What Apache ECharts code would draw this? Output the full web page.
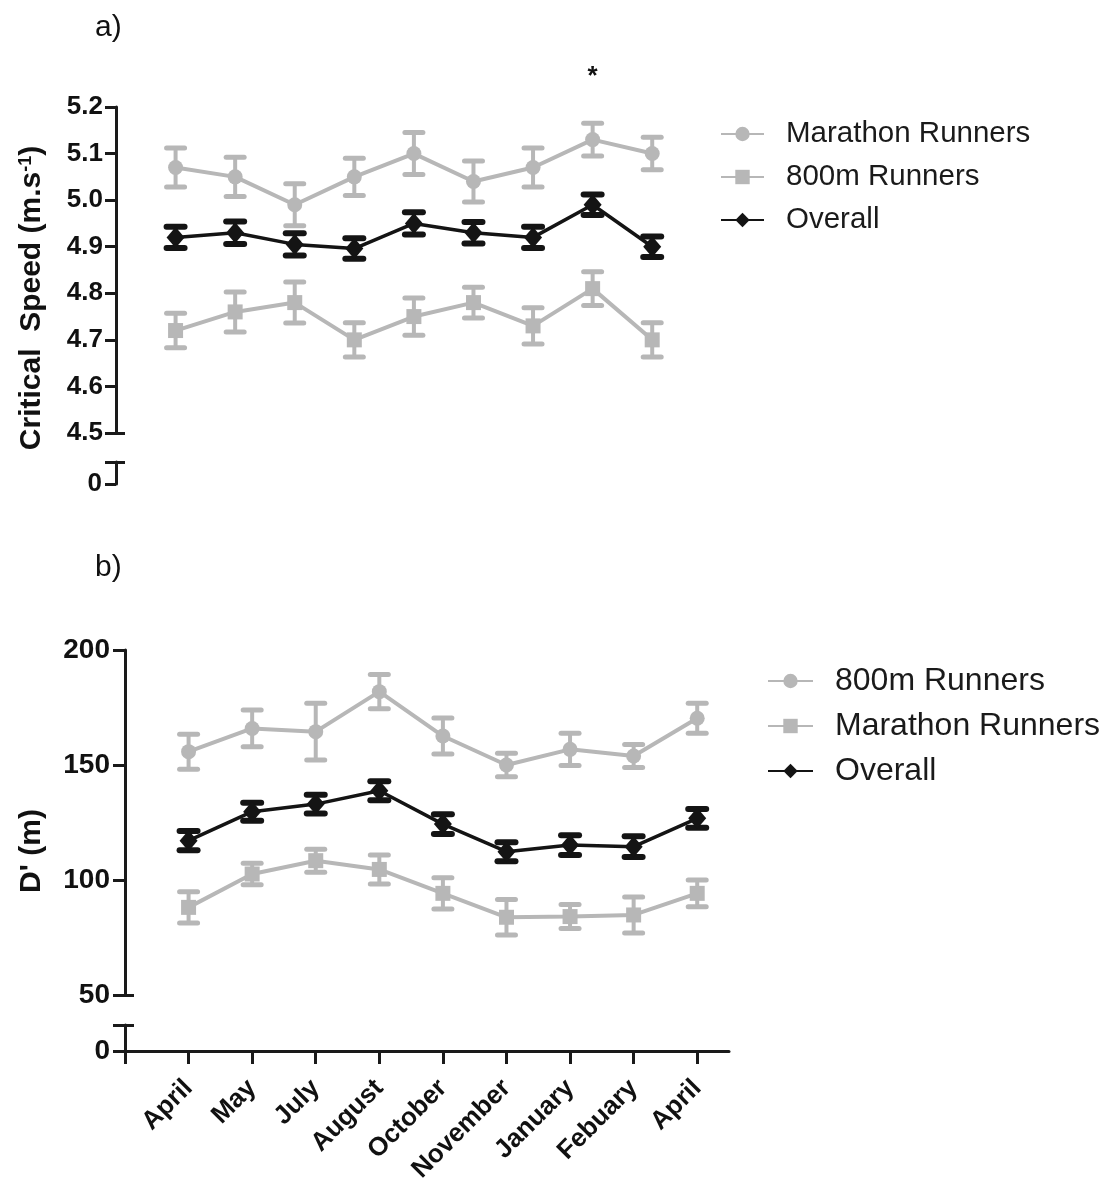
<!DOCTYPE html>
<html>
<head>
<meta charset="utf-8">
<script src="https://cdn.jsdelivr.net/npm/echarts@6/dist/echarts.min.js"></script>
<style>
html,body{margin:0;padding:0;background:#fff;}
#chart{width:1109px;height:1195px;}
</style>
</head>
<body>
<div id="chart"></div>
<script>
// ---- data ----
const months = ['April','May','July','August','October','November','January','Febuary','April'];

// panel a) Critical speed (m.s-1)
const csMarathon    = [5.07, 5.05, 4.99, 5.05, 5.10, 5.04, 5.07, 5.13, 5.10];
const csMarathonErr = [0.042,0.042,0.045,0.040,0.045,0.044,0.042,0.035,0.035];
const cs800         = [4.72, 4.76, 4.78, 4.70, 4.75, 4.78, 4.73, 4.81, 4.70];
const cs800Err      = [0.037,0.043,0.044,0.037,0.040,0.033,0.039,0.036,0.037];
const csOverall     = [4.92, 4.93, 4.905,4.896,4.95, 4.93, 4.92, 4.99, 4.90];
const csOverallErr  = [0.023,0.024,0.024,0.022,0.024,0.023,0.023,0.022,0.022];
const csStarIndex   = 7; // Febuary

// panel b) D' (m)
const d800          = [155.8,165.9,164.5,181.9,162.6,150.0,156.8,153.9,170.3];
const d800Err       = [7.6, 8.0, 12.3, 7.4, 7.8, 5.1, 7.0, 5.0, 6.5];
const dMarathon     = [88.1,102.6,108.4,104.6, 94.2, 83.8, 84.1, 84.8, 94.2];
const dMarathonErr  = [6.8, 4.7, 5.0, 6.3, 6.8, 7.7, 5.2, 7.8, 5.8];
const dOverall      = [117.1,129.7,133.0,138.8,124.3,112.3,115.2,114.5,126.8];
const dOverallErr   = [4.2, 3.9, 4.1, 4.1, 4.3, 4.1, 4.3, 4.5, 4.1];

const breakZero = [0];

// ---- helpers ----
const GRAY = '#b7b7b7';
const BLACK = '#141414';
const AXIS = '#1a1a1a';
const FONT = '"Liberation Sans", Arial, Helvetica, sans-serif';

function pts(arr){ return arr.map((v,i)=>[i+1, v]); }
function errPts(arr, err){ return arr.map((v,i)=>[i+1, v, err[i]]); }

function errRender(color){
  return function(params, api){
    const x = api.value(0), m = api.value(1), e = api.value(2);
    const t = api.coord([x, m + e]);
    const b = api.coord([x, m - e]);
    const hw = 9;
    const cw = color===BLACK ? 6 : 5;
    return {
      type:'group',
      children:[
        {type:'line', shape:{x1:t[0],y1:t[1],x2:b[0],y2:b[1]}, style:{stroke:color,lineWidth:4}},
        {type:'line', shape:{x1:t[0]-hw,y1:t[1],x2:t[0]+hw,y2:t[1]}, style:{stroke:color,lineWidth:cw,lineCap:'round'}},
        {type:'line', shape:{x1:b[0]-hw,y1:b[1],x2:b[0]+hw,y2:b[1]}, style:{stroke:color,lineWidth:cw,lineCap:'round'}}
      ]
    };
  };
}

function lineSeries(name, data, color, symbol, size, xi, yi, extra){
  return Object.assign({
    type:'line', name:name, data:pts(data), xAxisIndex:xi, yAxisIndex:yi,
    symbol:symbol, symbolSize:size, showSymbol:true,
    lineStyle:{color:color, width: color===BLACK ? 3.5 : 4},
    itemStyle:{color:color},
    clip:false, z: color===BLACK ? 4 : 2
  }, extra||{});
}
function errSeries(data, err, color, xi, yi){
  return {
    type:'custom', data:errPts(data, err), xAxisIndex:xi, yAxisIndex:yi,
    renderItem: errRender(color), encode:{x:0, y:1}, clip:false,
    z: color===BLACK ? 4 : 2, silent:true
  };
}

function hiddenX(gi){
  return {type:'value', gridIndex:gi, min:0, max:9.5, show:false};
}

function mainY(gi, min, max, interval, fontSize, digits, tlen, margin){
  return {
    type:'value', gridIndex:gi, min:min, max:max, interval:interval, position:'left',
    axisLine:{show:true, onZero:false, lineStyle:{color:AXIS, width:3}},
    axisTick:{show:true, length:tlen, lineStyle:{color:AXIS, width:3}},
    axisLabel:{show:true, margin:margin, fontSize:fontSize, fontWeight:'bold', color:'#111', fontFamily:FONT,
               formatter:(v)=> digits ? v.toFixed(digits) : String(Math.round(v))},
    splitLine:{show:false}
  };
}
function innerBreakTick(gi, min, max, val){
  return {
    type:'value', gridIndex:gi, min:min, max:max, position:'left',
    axisLine:{show:false, onZero:false},
    axisTick:{show:true, inside:true, length:9, customValues:[val], lineStyle:{color:AXIS, width:3}},
    axisLabel:{show:false}, splitLine:{show:false}
  };
}
function lowerY(gi, fontSize, tlen, margin){
  return {
    type:'value', gridIndex:gi, min:0, max:1, position:'left',
    axisLine:{show:true, onZero:false, lineStyle:{color:AXIS, width:3}},
    axisTick:{show:true, length:tlen, customValues:[0, 1], lineStyle:{color:AXIS, width:3}},
    axisLabel:{show:true, margin:margin, fontSize:fontSize, fontWeight:'bold', color:'#111', fontFamily:FONT,
               customValues:breakZero, formatter:()=> '0'},
    splitLine:{show:false}
  };
}

const stripName = (n)=> n.replace(/^[ab]\|/, '');

const option = {
  animation:false,
  backgroundColor:'#fff',
  grid:[
    {left:116, top:107, width:566, height:326},
    {left:116, top:462, width:566, height:22},
    {left:125, top:650, width:604, height:345},
    {left:125, top:1025, width:604, height:26}
  ],
  xAxis:[
    hiddenX(0), hiddenX(1), hiddenX(2),
    {
      type:'value', gridIndex:3, min:0, max:9.5,
      axisLine:{show:true, onZero:false, lineStyle:{color:AXIS, width:3}},
      axisTick:{show:true, length:13, customValues:[0,1,2,3,4,5,6,7,8,9], lineStyle:{color:AXIS, width:3}},
      axisLabel:{show:true, rotate:45, margin:33, fontSize:26, fontWeight:'bold', color:'#111', fontFamily:FONT,
                 customValues:[1,2,3,4,5,6,7,8,9], formatter:(v)=> months[Math.round(v)-1] || ''},
      splitLine:{show:false}
    }
  ],
  yAxis:[
    mainY(0, 4.5, 5.2, 0.1, 26, 1, 11, 13),   // 0
    innerBreakTick(0, 4.5, 5.2, 4.5),         // 1
    lowerY(1, 26, 11, 14),                     // 2
    innerBreakTick(1, 0, 1, 1),               // 3
    mainY(2, 50, 200, 50, 28, 0, 12, 15),     // 4
    innerBreakTick(2, 50, 200, 50),           // 5
    lowerY(3, 28, 12, 15),                     // 6
    innerBreakTick(3, 0, 1, 1)                // 7
  ],
  legend:[
    {
      orient:'vertical', left:715, top:114, itemWidth:43, itemHeight:18, itemGap:13,
      data:['a|Marathon Runners','a|800m Runners','a|Overall'],
      formatter:stripName, selectedMode:false,
      textStyle:{fontSize:29.5, color:'#1a1a1a', fontFamily:FONT, lineHeight:30, padding:[0,0,0,17]}
    },
    {
      orient:'vertical', left:762, top:660, itemWidth:45, itemHeight:18, itemGap:13,
      data:['b|800m Runners','b|Marathon Runners','b|Overall'],
      formatter:stripName, selectedMode:false,
      textStyle:{fontSize:32, color:'#1a1a1a', fontFamily:FONT, lineHeight:32, padding:[0,0,0,17]}
    }
  ],
  series:[
    // panel a
    lineSeries('a|Marathon Runners', csMarathon, GRAY, 'circle', 15, 0, 0),
    errSeries(csMarathon, csMarathonErr, GRAY, 0, 0),
    lineSeries('a|800m Runners', cs800, GRAY, 'rect', 15, 0, 0),
    errSeries(cs800, cs800Err, GRAY, 0, 0),
    lineSeries('a|Overall', csOverall, BLACK, 'diamond', [18, 21], 0, 0, {
      markPoint:{
        symbol:'circle', symbolSize:1, itemStyle:{color:'rgba(0,0,0,0)'},
        data:[{coord:[csStarIndex+1, 5.2]}],
        label:{show:true, position:'inside', formatter:'*', offset:[0,-30],
               fontSize:26, fontWeight:'bold', color:'#111', fontFamily:FONT}
      }
    }),
    errSeries(csOverall, csOverallErr, BLACK, 0, 0),
    // panel b
    lineSeries('b|800m Runners', d800, GRAY, 'circle', 15, 2, 4),
    errSeries(d800, d800Err, GRAY, 2, 4),
    lineSeries('b|Marathon Runners', dMarathon, GRAY, 'rect', 15, 2, 4),
    errSeries(dMarathon, dMarathonErr, GRAY, 2, 4),
    lineSeries('b|Overall', dOverall, BLACK, 'diamond', [18, 21], 2, 4),
    errSeries(dOverall, dOverallErr, BLACK, 2, 4)
  ],
  graphic:[
    {type:'text', left:95, top:13, style:{text:'a)', fontSize:30, fill:'#111', fontFamily:FONT}},
    {type:'text', left:95, top:553, style:{text:'b)', fontSize:30, fill:'#111', fontFamily:FONT}},
    {type:'text', x:32, y:298, rotation:Math.PI/2,
     style:{text:'Critical  Speed (m.s{sup|-1})', fontSize:30, fontWeight:'bold', fill:'#111', fontFamily:FONT,
            align:'center', verticalAlign:'middle',
            rich:{sup:{fontSize:18, fontWeight:'bold', fill:'#111', fontFamily:FONT, verticalAlign:'top', lineHeight:30}}}},
    {type:'text', x:32, y:851, rotation:Math.PI/2,
     style:{text:"D' (m)", fontSize:30, fontWeight:'bold', fill:'#111', fontFamily:FONT,
            align:'center', verticalAlign:'middle'}}
  ]
};

const chart = echarts.init(document.getElementById('chart'), null, {renderer:'canvas'});
chart.setOption(option);
</script>
</body>
</html>
